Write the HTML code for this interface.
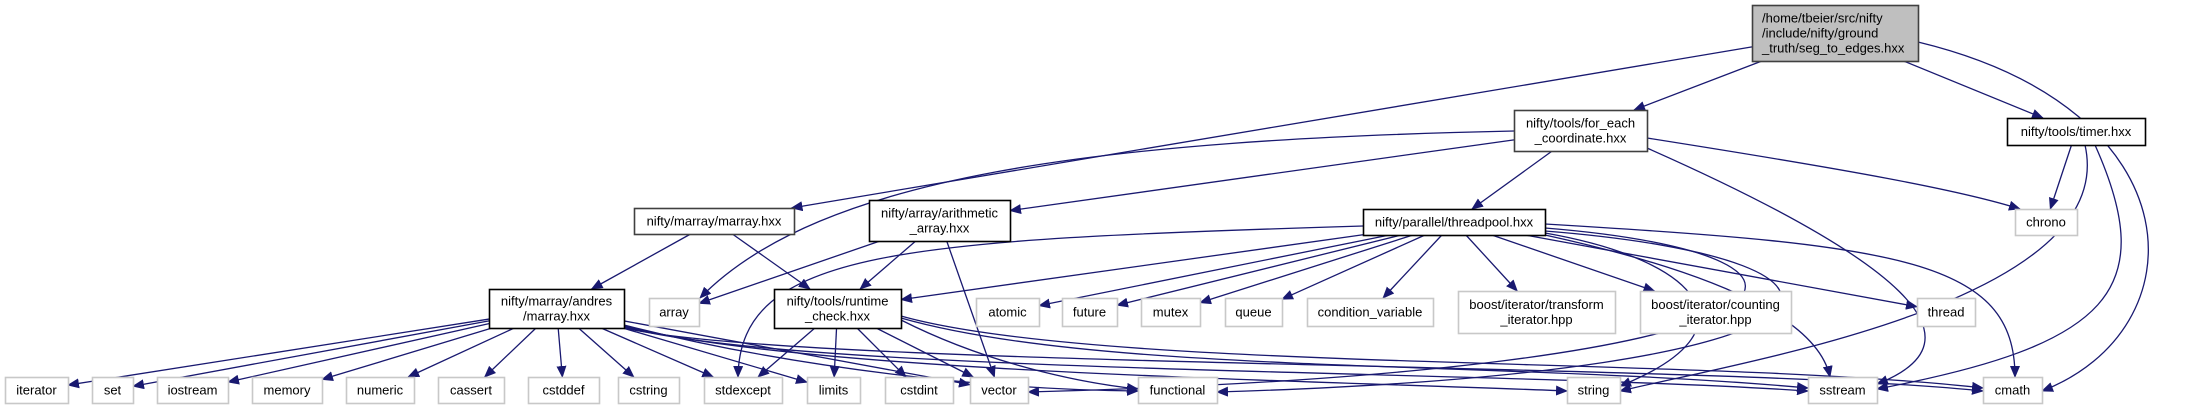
<!DOCTYPE html>
<html><head><meta charset="utf-8"><title>seg_to_edges.hxx include graph</title>
<style>
html,body{margin:0;padding:0;background:#fff;}
svg{display:block;font-family:"Liberation Sans",Arial,sans-serif;}
</style></head>
<body>
<svg id="g" width="2208" height="409" viewBox="0 0 2208 409" xmlns="http://www.w3.org/2000/svg">
<defs>
<marker id="ah" markerWidth="12" markerHeight="10" refX="11" refY="5" orient="auto" markerUnits="userSpaceOnUse">
<path d="M0,0 L12,5 L0,10 z" fill="#191970"/>
</marker>
</defs>
<g id="edges"></g>
<g id="nodes"></g>
</svg>
<script>
const nodeIds=["root","foreach","timer","marray","arith","threadpool","chrono","andres","array","runtime","atomic","future","mutex","queue","condvar","btrans","bcount","thread","iterator","set","iostream","memory","numeric","cassert","cstddef","cstring","stdexcept","limits","cstdint","vector","functional","string","sstream","cmath"];
const nodeBoxes={
root:[1752,5,166,56],foreach:[1514,110,133,41],timer:[2007,118,138,27],
marray:[634,208,160,26],arith:[869,200,141,41],threadpool:[1363,209,182,26],chrono:[2015,209,62,26],
andres:[489,289,135,39],array:[649,298,50,28],runtime:[774,289,127,39],atomic:[976,298,63,28],
future:[1062,298,55,28],mutex:[1141,298,59,28],queue:[1225,298,57,28],condvar:[1307,298,126,28],
btrans:[1458,291,157,42],bcount:[1640,291,151,42],thread:[1917,298,58,28],
iterator:[5,377,63,26],set:[92,377,41,26],iostream:[157,377,71,26],memory:[252,377,70,26],
numeric:[346,377,68,26],cassert:[438,377,66,26],cstddef:[528,377,71,26],cstring:[618,377,61,26],
stdexcept:[704,377,78,26],limits:[807,377,53,26],cstdint:[885,377,68,26],vector:[970,377,58,26],
functional:[1138,377,79,26],string:[1567,377,53,26],sstream:[1808,377,69,26],cmath:[1983,377,59,26]};
const nodeLabels={
root:["/home/tbeier/src/nifty","/include/nifty/ground","_truth/seg_to_edges.hxx"],
foreach:["nifty/tools/for_each","_coordinate.hxx"],timer:["nifty/tools/timer.hxx"],
marray:["nifty/marray/marray.hxx"],arith:["nifty/array/arithmetic","_array.hxx"],
threadpool:["nifty/parallel/threadpool.hxx"],chrono:["chrono"],
andres:["nifty/marray/andres","/marray.hxx"],array:["array"],runtime:["nifty/tools/runtime","_check.hxx"],
atomic:["atomic"],future:["future"],mutex:["mutex"],queue:["queue"],condvar:["condition_variable"],
btrans:["boost/iterator/transform","_iterator.hpp"],bcount:["boost/iterator/counting","_iterator.hpp"],
thread:["thread"],iterator:["iterator"],set:["set"],iostream:["iostream"],memory:["memory"],
numeric:["numeric"],cassert:["cassert"],cstddef:["cstddef"],cstring:["cstring"],stdexcept:["stdexcept"],
limits:["limits"],cstdint:["cstdint"],vector:["vector"],functional:["functional"],string:["string"],
sstream:["sstream"],cmath:["cmath"]};
const documented=["root","foreach","timer","marray","arith","threadpool","andres","runtime"];

const straightEdges=[
["root","foreach"],["root","timer"],["root","marray"],
["foreach","threadpool"],["foreach","arith"],
["timer","chrono"],
["marray","andres"],["marray","runtime"],
["arith","array"],["arith","runtime"],["arith","vector"],
["threadpool","runtime"],["threadpool","atomic"],["threadpool","future"],["threadpool","mutex"],
["threadpool","queue"],["threadpool","condvar"],["threadpool","btrans"],["threadpool","bcount"],["threadpool","thread"],
["andres","iterator"],["andres","set"],["andres","iostream"],["andres","memory"],["andres","numeric"],
["andres","cassert"],["andres","cstddef"],["andres","cstring"],["andres","stdexcept"],["andres","limits"],["andres","vector"],
["runtime","stdexcept"],["runtime","limits"],["runtime","cstdint"],["runtime","vector"]
];
const curvedEdges=[
["root","cmath",[1918,42],[2200,110],[2200,330],[2042,391]],
["foreach","array",[1514,131],[1100,140],[820,175],[700,298]],
["foreach","chrono",[1647,138],[1850,170],[1960,190],[2020,209]],
["foreach","sstream",[1647,148],[1900,260],[1990,340],[1877,384]],
["timer","string",[2085,145],[2120,300],[1750,360],[1620,391]],
["timer","sstream",[2095,145],[2160,290],[2110,345],[1877,389]],
["threadpool","stdexcept",[1363,226],[900,240],[740,250],[738,377]],
["threadpool","vector",[1545,228],[1880,255],[1850,370],[1028,392]],
["threadpool","functional",[1545,231],[1910,260],[1890,372],[1217,392]],
["threadpool","string",[1545,233],[1700,260],[1760,330],[1620,386]],
["threadpool","cmath",[1545,224],[1900,245],[2015,260],[2015,377]],
["threadpool","sstream",[1545,235],[1750,280],[1820,330],[1830,377]],
["andres","functional",[624,325],[800,370],[1000,390],[1138,391]],
["andres","string",[624,326],[800,372],[1300,380],[1567,391]],
["andres","sstream",[624,327],[800,374],[1500,370],[1808,391]],
["andres","cmath",[624,328],[800,368],[1700,362],[1983,391]],
["runtime","sstream",[901,318],[1100,375],[1500,360],[1808,388]],
["runtime","cmath",[901,316],[1100,372],[1700,356],[1983,388]],
["runtime","functional",[901,320],[1000,370],[1100,385],[1138,389]]
];

const NS="http://www.w3.org/2000/svg";
const E=document.getElementById('edges'), N=document.getElementById('nodes');
function clip(b,tx,ty){
  const cx=b[0]+b[2]/2, cy=b[1]+b[3]/2, dx=tx-cx, dy=ty-cy;
  const sx=dx===0?Infinity:(b[2]/2)/Math.abs(dx), sy=dy===0?Infinity:(b[3]/2)/Math.abs(dy);
  const s=Math.min(sx,sy); return [cx+dx*s, cy+dy*s];
}
straightEdges.forEach(([f,t])=>{
  const a=nodeBoxes[f], b=nodeBoxes[t];
  const ac=[a[0]+a[2]/2,a[1]+a[3]/2], bc=[b[0]+b[2]/2,b[1]+b[3]/2];
  const p=clip(a,bc[0],bc[1]), q=clip(b,ac[0],ac[1]);
  const l=document.createElementNS(NS,'path');
  l.setAttribute('d',`M${p[0]},${p[1]} L${q[0]},${q[1]}`);
  l.setAttribute('stroke','#191970');l.setAttribute('stroke-width','1.3');l.setAttribute('fill','none');
  l.setAttribute('marker-end','url(#ah)');
  
  
  E.appendChild(l);
});
curvedEdges.forEach(([f,t,s,c1,c2,e])=>{
  const l=document.createElementNS(NS,'path');
  l.setAttribute('d',`M${s[0]},${s[1]} C${c1[0]},${c1[1]} ${c2[0]},${c2[1]} ${e[0]},${e[1]}`);
  l.setAttribute('stroke','#191970');l.setAttribute('stroke-width','1.3');l.setAttribute('fill','none');
  l.setAttribute('marker-end','url(#ah)');
  
  
  E.appendChild(l);
});
nodeIds.forEach(id=>{
  const b=nodeBoxes[id], lines=nodeLabels[id], doc=documented.includes(id);
  const g=document.createElementNS(NS,'g');
  
  
  const r=document.createElementNS(NS,'rect');
  r.setAttribute('x',b[0]+0.5);r.setAttribute('y',b[1]+0.5);r.setAttribute('width',b[2]);r.setAttribute('height',b[3]);
  r.setAttribute('fill',id==='root'?'#bfbfbf':'#fff');
  r.setAttribute('stroke',doc?(id==='root'||id==='foreach'||id==='marray'?'#404040':'#000'):'#c8c8c8');
  r.setAttribute('stroke-width','1.6');
  
  
  g.appendChild(r);
  const lh=15, top=b[1]+b[3]/2-(lines.length-1)*lh/2;
  lines.forEach((s,i)=>{
    const tx=document.createElementNS(NS,'text');
    if(id==='root'){tx.setAttribute('x',b[0]+10);tx.setAttribute('text-anchor','start');}
    else{tx.setAttribute('x',b[0]+b[2]/2);tx.setAttribute('text-anchor','middle');}
    tx.setAttribute('y',top+i*lh+4.5);
    tx.setAttribute('font-size','13');tx.setAttribute('fill','#000');
    
    
    tx.textContent=s;
    g.appendChild(tx);
  });
  N.appendChild(g);
});
</script>
</body></html>
